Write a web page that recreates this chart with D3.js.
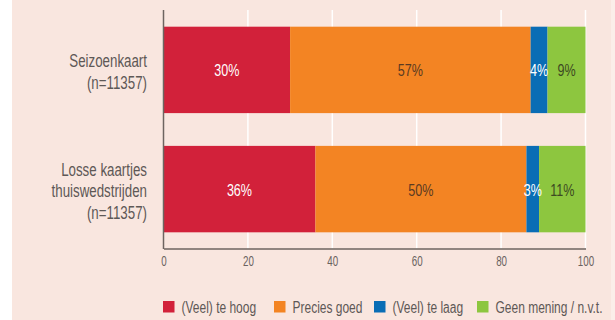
<!DOCTYPE html>
<html>
<head>
<meta charset="utf-8">
<script src="https://cdn.jsdelivr.net/npm/d3@7/dist/d3.min.js"></script>
<style>
  html, body { margin: 0; padding: 0; background: #ffffff; }
  svg { display: block; }
  text { font-family: "Liberation Sans", Arial, sans-serif; }
</style>
</head>
<body>
<svg id="chart" width="615" height="320"></svg>
<script>
// Ticket-price opinion per ticket type (percent of respondents)
const categories = [
  ["Seizoenkaart", "(n=11357)"],
  ["Losse kaartjes", "thuiswedstrijden", "(n=11357)"]
];
const seriesNames = ["(Veel) te hoog", "Precies goed", "(Veel) te laag", "Geen mening / n.v.t."];
const veelTeHoog   = [30, 36];
const preciesGoed  = [57, 50];
const veelTeLaag   = [4, 3];
const geenMening   = [9, 11];
const xTicks = [0, 20, 40, 60, 80, 100];

const colors = ["#d2213a", "#f38423", "#0a6db5", "#8dc63f"];
const labelColors = ["#ffffff", "#5a3a22", "#ffffff", "#3d4a22"];

const seriesValues = [veelTeHoog, preciesGoed, veelTeLaag, geenMening];
const rows = categories.map((c, i) => {
  const r = { key: i };
  seriesNames.forEach((s, j) => { r[s] = seriesValues[j][i]; });
  return r;
});
const stacked = d3.stack().keys(seriesNames)(rows);

// narrow the type horizontally around its anchor point
function squeeze(sel, sx) {
  sel.each(function () {
    const t = d3.select(this);
    const ax = +t.attr("x") || 0;
    t.attr("transform", `translate(${ax},0) scale(${sx},1) translate(${-ax},0)`);
  });
}

const svg = d3.select("#chart");
const H = 320;

// panel background
svg.append("rect").attr("x", 12).attr("y", 0).attr("width", 599).attr("height", H).attr("fill", "#f9e6df");
svg.append("rect").attr("x", 611).attr("y", 0).attr("width", 4).attr("height", H).attr("fill", "#fbeee9");

const x = d3.scaleLinear().domain([0, 100]).range([163.5, 585.5]);
const y = d3.scaleBand().domain(rows.map(r => r.key)).range([10, 249]).paddingInner(0.275).paddingOuter(0.14);

// vertical gridlines
svg.append("g").selectAll("line").data(xTicks.filter(t => t > 0)).join("line")
  .attr("x1", d => x(d)).attr("x2", d => x(d))
  .attr("y1", 10).attr("y2", 248.5)
  .attr("stroke", "#ffffff").attr("stroke-width", 1.5);

// stacked bars
const layers = svg.append("g").selectAll("g").data(stacked).join("g")
  .attr("fill", (d, i) => colors[i]);
layers.selectAll("rect").data(d => d).join("rect")
  .attr("x", d => x(d[0]))
  .attr("width", d => x(d[1]) - x(d[0]))
  .attr("y", d => y(d.data.key))
  .attr("height", y.bandwidth());

// value labels
const valLayers = svg.append("g").selectAll("g").data(stacked).join("g")
  .attr("fill", (d, i) => labelColors[i]);
const valText = valLayers.selectAll("text").data(d => d).join("text")
  .attr("x", d => (x(d[0]) + x(d[1])) / 2)
  .attr("y", d => y(d.data.key) + y.bandwidth() / 2)
  .attr("dy", "0.38em")
  .attr("text-anchor", "middle")
  .attr("font-size", 17)
  .text(d => (d[1] - d[0]) + "%");
squeeze(valText, 0.74);

// x axis
const xAxis = d3.axisBottom(x).tickValues(xTicks).tickSize(0).tickPadding(8);
const gx = svg.append("g").attr("transform", "translate(0,248.5)").call(xAxis);
gx.select(".domain").attr("stroke", "#6e6460").attr("stroke-width", 1.5);
gx.selectAll("text").attr("fill", "#6a6260").attr("font-size", 14)
  .style("font-family", '"Liberation Sans", Arial, sans-serif');
squeeze(gx.selectAll("text"), 0.7);

// y axis line
svg.append("line").attr("x1", 163.5).attr("x2", 163.5).attr("y1", 10).attr("y2", 249)
  .attr("stroke", "#6e6460").attr("stroke-width", 1.5);

// category labels, one text per line
const lineH = 21.5;
const catLines = categories.flatMap((lines, i) => lines.map((t, j) => ({
  text: t,
  y: y(i) + y.bandwidth() / 2 - (lines.length - 1) * lineH / 2 + j * lineH + 1.5
})));
const catText = svg.append("g").selectAll("text").data(catLines).join("text")
  .attr("text-anchor", "end")
  .attr("fill", "#5e5856")
  .attr("font-size", 18.5)
  .attr("x", 147)
  .attr("y", d => d.y)
  .attr("dy", "0.36em")
  .text(d => d.text);
squeeze(catText, 0.72);

// legend
const legendX = [163, 274, 374, 477];
const lg = svg.append("g").selectAll("g").data(seriesNames).join("g")
  .attr("transform", (d, i) => `translate(${legendX[i]},301)`);
lg.append("rect").attr("width", 11.5).attr("height", 11.5).attr("fill", (d, i) => colors[i]);
const lgText = lg.append("text").attr("x", 18.5).attr("y", 6).attr("dy", "0.36em")
  .attr("font-size", 16).attr("fill", "#5e5856").text(d => d);
squeeze(lgText, 0.75);
</script>
</body>
</html>
